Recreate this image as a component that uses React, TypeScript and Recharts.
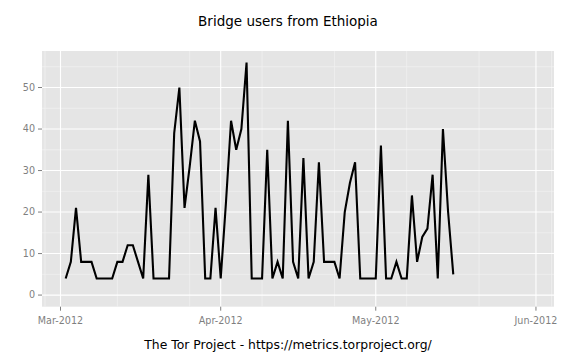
import React from 'react';
import { LineChart, Line, XAxis, YAxis, CartesianGrid } from 'recharts';

// ---- data ----
const startDate = '2012-03-02';
const users = [
  4, 8, 21, 8, 8, 8, 4, 4, 4, 4, 8, 8, 12, 12, 8, 4, 29, 4, 4, 4, 4, 39, 50, 21, 31, 42, 37, 4, 4, 21,
  4, 22, 42, 35, 40, 56, 4, 4, 4, 35, 4, 8, 4, 42, 8, 4, 33, 4, 8, 32, 8, 8, 8, 4, 20, 27, 32, 4, 4, 4,
  4, 36, 4, 4, 8, 4, 4, 24, 8, 14, 16, 29, 4, 40, 20, 5,
];
const xTickDates = ['2012-03-01', '2012-04-01', '2012-05-01', '2012-06-01'];
const xTickLabels = ['Mar-2012', 'Apr-2012', 'May-2012', 'Jun-2012'];
const xMinorDates = [
  '2012-02-27', '2012-03-05', '2012-03-12', '2012-03-19', '2012-03-26', '2012-04-02', '2012-04-09',
  '2012-04-16', '2012-04-23', '2012-04-30', '2012-05-07', '2012-05-14', '2012-05-21', '2012-05-28', '2012-06-04',
];
const yTicks = [0, 10, 20, 30, 40, 50];
const yMinorTicks = [5, 15, 25, 35, 45, 55];
const title = 'Bridge users from Ethiopia';
const caption = 'The Tor Project - https://metrics.torproject.org/';

// ---- helpers ----
const DAY = 86400000;
const dayNum = (s: string) => Date.parse(s + 'T00:00:00Z') / DAY;
const start = dayNum(startDate);
const data = users.map((v, i) => ({ day: start + i, users: v }));
const xTicks = xTickDates.map(dayNum);
const xMinor = xMinorDates.map(dayNum);
const labelFor = (d: number) => {
  const idx = xTicks.findIndex((t) => Math.abs(t - d) < 0.01);
  return idx >= 0 ? xTickLabels[idx] : '';
};
const ref = dayNum('2012-03-01');
const xDomain = [ref - 3.58, ref + 95.49];
const yDomain = [-2.8, 58.8];

const FONT = '"DejaVu Sans", sans-serif';
const tickStyle = { fill: '#7F7F7F', fontSize: 9.6, fontFamily: FONT };

export default function App() {
  return (
    <div style={{ position: 'absolute', left: 0, top: 0, width: 576, height: 360, background: '#fff' }}>
      <LineChart
        width={576}
        height={360}
        data={data}
        margin={{ top: 51, right: 22, bottom: 23.3, left: 0 }}
      >
        <XAxis xAxisId="minor" dataKey="day" type="number" domain={xDomain} ticks={xMinor} hide allowDataOverflow />
        <YAxis yAxisId="minor" type="number" domain={yDomain} ticks={yMinorTicks} hide allowDataOverflow />
        <CartesianGrid
          xAxisId="minor"
          yAxisId="minor"
          fill="#E5E5E5"
          stroke="#F2F2F2"
          strokeWidth={0.7}
          syncWithTicks
        />
        <CartesianGrid stroke="#FFFFFF" strokeWidth={1.1} syncWithTicks />
        <XAxis
          dataKey="day"
          type="number"
          domain={xDomain}
          ticks={xTicks}
          tickFormatter={labelFor}
          axisLine={false}
          tickLine={{ stroke: '#7F7F7F' }}
          tickSize={4}
          tickMargin={6}
          tick={tickStyle}
          height={30}
          allowDataOverflow
          interval={0}
        />
        <YAxis
          type="number"
          domain={yDomain}
          ticks={yTicks}
          axisLine={false}
          tickLine={{ stroke: '#7F7F7F' }}
          tickSize={4}
          tickMargin={3}
          tick={tickStyle}
          width={42}
          allowDataOverflow
          interval={0}
        />
        <Line
          dataKey="users"
          stroke="#000000"
          strokeWidth={2.1}
          dot={false}
          activeDot={false}
          isAnimationActive={false}
          strokeLinejoin="miter"
        />
      </LineChart>
      <div
        style={{
          position: 'absolute', left: 0, top: 13, width: 576, textAlign: 'center',
          fontFamily: FONT, fontSize: 13.5, lineHeight: '16px', color: '#000',
        }}
      >
        {title}
      </div>
      <div
        style={{
          position: 'absolute', left: 0, top: 338, width: 576, textAlign: 'center',
          fontFamily: FONT, fontSize: 12.4, lineHeight: '14px', color: '#000',
        }}
      >
        {caption}
      </div>
    </div>
  );
}
